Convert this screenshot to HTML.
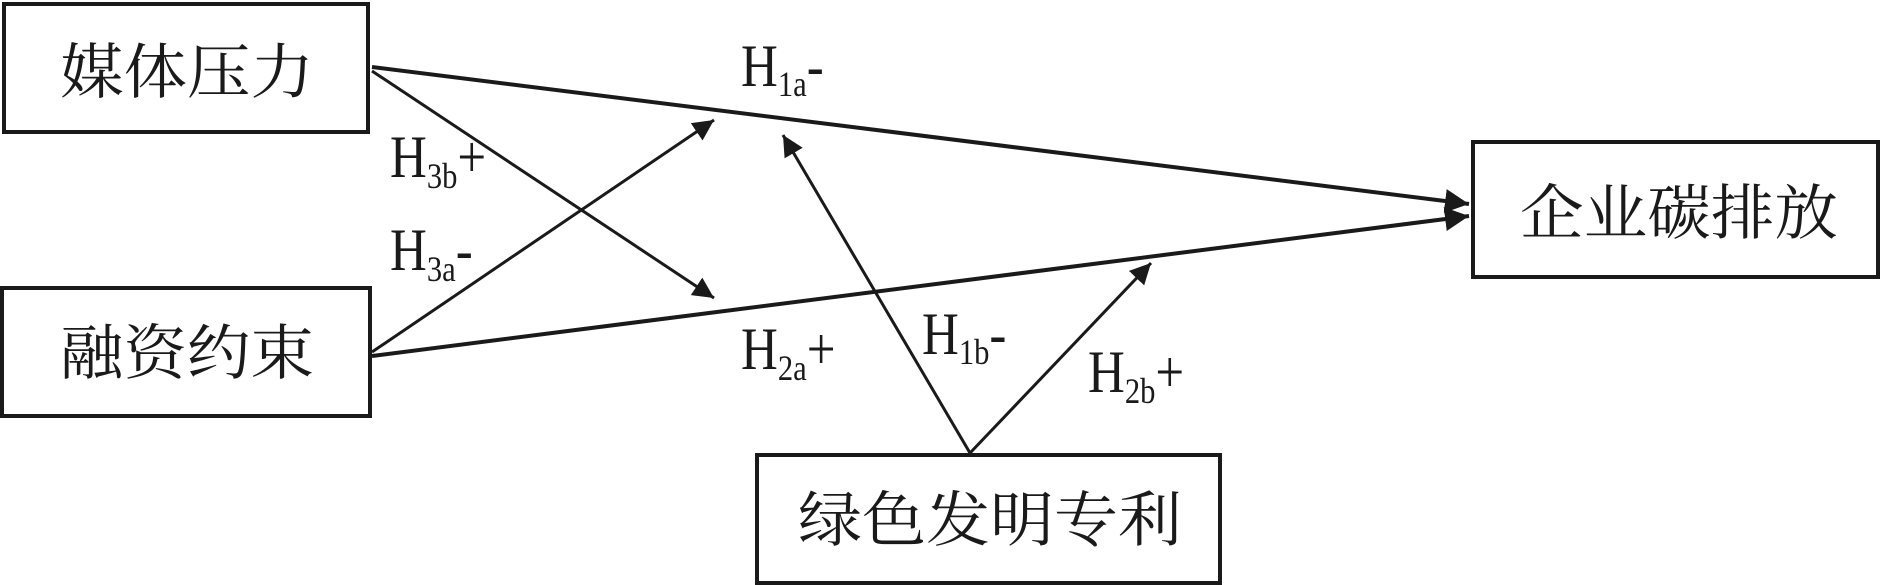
<!DOCTYPE html>
<html><head><meta charset="utf-8"><style>
html,body{margin:0;padding:0;background:#fff;}
svg{display:block;}
.cn{font-family:"Noto Serif CJK SC","Liberation Serif",serif;font-size:60px;fill:#1a1a1a;}
.h{font-family:"Liberation Serif",serif;font-size:60px;fill:#1a1a1a;}
.s{font-size:36px;}
</style></head><body>
<svg width="1882" height="585" viewBox="0 0 1882 585" xmlns="http://www.w3.org/2000/svg">
<defs>
<marker id="a" viewBox="0 0 10 10" refX="10" refY="5" markerWidth="6" markerHeight="6" markerUnits="strokeWidth" orient="auto">
<path d="M0,0 L10,5 L0,10 z" fill="#1a1a1a"/></marker>
<marker id="b" viewBox="0 0 10 10" refX="10" refY="5" markerWidth="7" markerHeight="7" markerUnits="strokeWidth" orient="auto">
<path d="M0,0 L10,5 L0,10 z" fill="#1a1a1a"/></marker>
</defs>
<g fill="none" stroke="#1a1a1a" stroke-width="4">
<rect x="4" y="4" width="364" height="128"/>
<rect x="2" y="288" width="368" height="128"/>
<rect x="757" y="455" width="463" height="128"/>
<rect x="1473" y="142" width="405" height="135"/>
</g>
<g stroke="#1a1a1a" fill="none">
<line x1="372" y1="67" x2="1469" y2="204" stroke-width="4" marker-end="url(#a)"/>
<line x1="372" y1="356" x2="1469" y2="216" stroke-width="4" marker-end="url(#a)"/>
<line x1="372" y1="71" x2="714" y2="298" stroke-width="3" marker-end="url(#b)"/>
<line x1="372" y1="352" x2="714" y2="120" stroke-width="3" marker-end="url(#b)"/>
<line x1="970" y1="453" x2="783" y2="135" stroke-width="3" marker-end="url(#b)"/>
<line x1="970" y1="453" x2="1151" y2="263" stroke-width="3" marker-end="url(#b)"/>
</g>
<text class="cn" x="60" y="93" textLength="254" lengthAdjust="spacingAndGlyphs">媒体压力</text>
<text class="cn" x="60" y="374" textLength="254" lengthAdjust="spacingAndGlyphs">融资约束</text>
<text class="cn" x="798" y="541" textLength="384" lengthAdjust="spacingAndGlyphs">绿色发明专利</text>
<text class="cn" x="1520" y="234" textLength="318" lengthAdjust="spacingAndGlyphs">企业碳排放</text>
<g class="h">
<text transform="translate(741,86) scale(0.85,1)">H<tspan class="s" dy="10">1a</tspan><tspan dy="-10">-</tspan></text>
<text transform="translate(390,177) scale(0.85,1)">H<tspan class="s" dy="11">3b</tspan><tspan dy="-11">+</tspan></text>
<text transform="translate(390,270) scale(0.85,1)">H<tspan class="s" dy="11">3a</tspan><tspan dy="-11">-</tspan></text>
<text transform="translate(741,369) scale(0.85,1)">H<tspan class="s" dy="11">2a</tspan><tspan dy="-11">+</tspan></text>
<text transform="translate(922,354) scale(0.85,1)">H<tspan class="s" dy="10">1b</tspan><tspan dy="-10">-</tspan></text>
<text transform="translate(1088,392) scale(0.85,1)">H<tspan class="s" dy="11">2b</tspan><tspan dy="-11">+</tspan></text>
</g>
</svg>
</body></html>
